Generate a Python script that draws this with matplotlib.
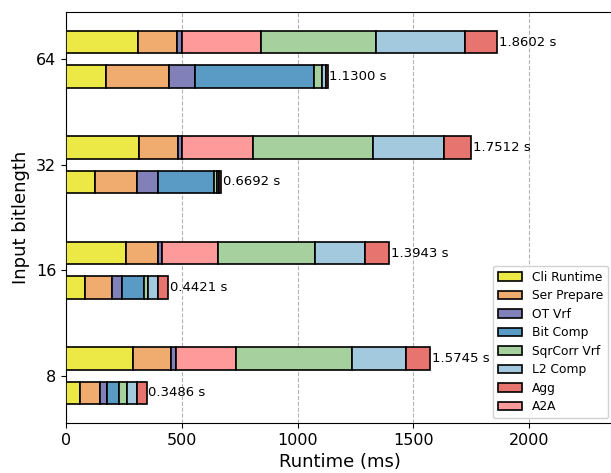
import matplotlib
matplotlib.use("Agg")
import matplotlib.pyplot as plt
import numpy as np

bitlengths = ["8", "16", "32", "64"]

# Upper bars (with A2A)
upper_cli = [290, 260, 315, 312]
upper_ser = [162, 137, 169, 168]
upper_ot = [25, 19, 19, 23]
upper_a2a = [256, 240, 305, 339]
upper_sqr = [501, 421, 519, 496]
upper_l2 = [233, 215, 305, 384]
upper_agg = [107, 102, 119, 138]
upper_totals = [1.5745, 1.3943, 1.7512, 1.8602]

# Lower bars (with Bit Comp)
lower_cli = [59, 81, 125, 172]
lower_ser = [90, 116, 181, 271]
lower_ot = [29, 46, 92, 112]
lower_bit = [50, 92, 241, 516]
lower_sqr = [35, 20, 14, 36]
lower_l2 = [43, 44, 8, 14]
lower_agg = [42, 43, 8, 9]
lower_totals = [0.3486, 0.4421, 0.6692, 1.1300]

colors = {
    "Cli Runtime": "#ece845",
    "Ser Prepare": "#f0ac6f",
    "OT Vrf": "#8280b8",
    "Bit Comp": "#5a9bc6",
    "SqrCorr Vrf": "#a6d19f",
    "L2 Comp": "#a3c9df",
    "Agg": "#e8746f",
    "A2A": "#ff9a9a",
}
legend_order = ["Cli Runtime", "Ser Prepare", "OT Vrf", "Bit Comp",
                "SqrCorr Vrf", "L2 Comp", "Agg", "A2A"]

fig = plt.figure(figsize=(6.11, 4.73), dpi=100)
ax = fig.add_axes([66/611, 1-423/473, 547/611, 411/473])

y = np.arange(len(bitlengths))
h = 0.215
off = 0.163

upper = [("Cli Runtime", upper_cli), ("Ser Prepare", upper_ser), ("OT Vrf", upper_ot),
         ("A2A", upper_a2a), ("SqrCorr Vrf", upper_sqr), ("L2 Comp", upper_l2),
         ("Agg", upper_agg)]
lower = [("Cli Runtime", lower_cli), ("Ser Prepare", lower_ser), ("OT Vrf", lower_ot),
         ("Bit Comp", lower_bit), ("SqrCorr Vrf", lower_sqr), ("L2 Comp", lower_l2),
         ("Agg", lower_agg)]

handles = {}
for segs, ypos, totals in [(upper, y + off, upper_totals), (lower, y - off, lower_totals)]:
    left = np.zeros(len(y))
    for name, vals in segs:
        vals = np.array(vals, dtype=float)
        b = ax.barh(ypos, vals, height=h, left=left, color=colors[name],
                    edgecolor="black", linewidth=1.2, zorder=3)
        handles[name] = b
        left = left + vals
    for yy, xx, t in zip(ypos, left, totals):
        ax.text(xx + 8, yy, f"{t:.4f} s", va="center", ha="left", fontsize=9.5, zorder=4)

ax.set_xlim(0, 1860.2 * 1.27)
ax.set_yticks(y)
ax.set_yticklabels(bitlengths, fontsize=11.5)
ax.tick_params(axis="x", labelsize=11.5)
ax.set_xlabel("Runtime (ms)", fontsize=13)
ax.set_ylabel("Input bitlength", fontsize=13)
ax.xaxis.grid(True, linestyle="--", color="gray", alpha=0.6, linewidth=0.8, zorder=0)
ax.set_axisbelow(True)

ax.legend([handles[n] for n in legend_order], legend_order, loc="lower right",
          fontsize=8.8, framealpha=0.9, labelspacing=0.45, borderaxespad=0.4)

fig.savefig("out.png", dpi=100)
